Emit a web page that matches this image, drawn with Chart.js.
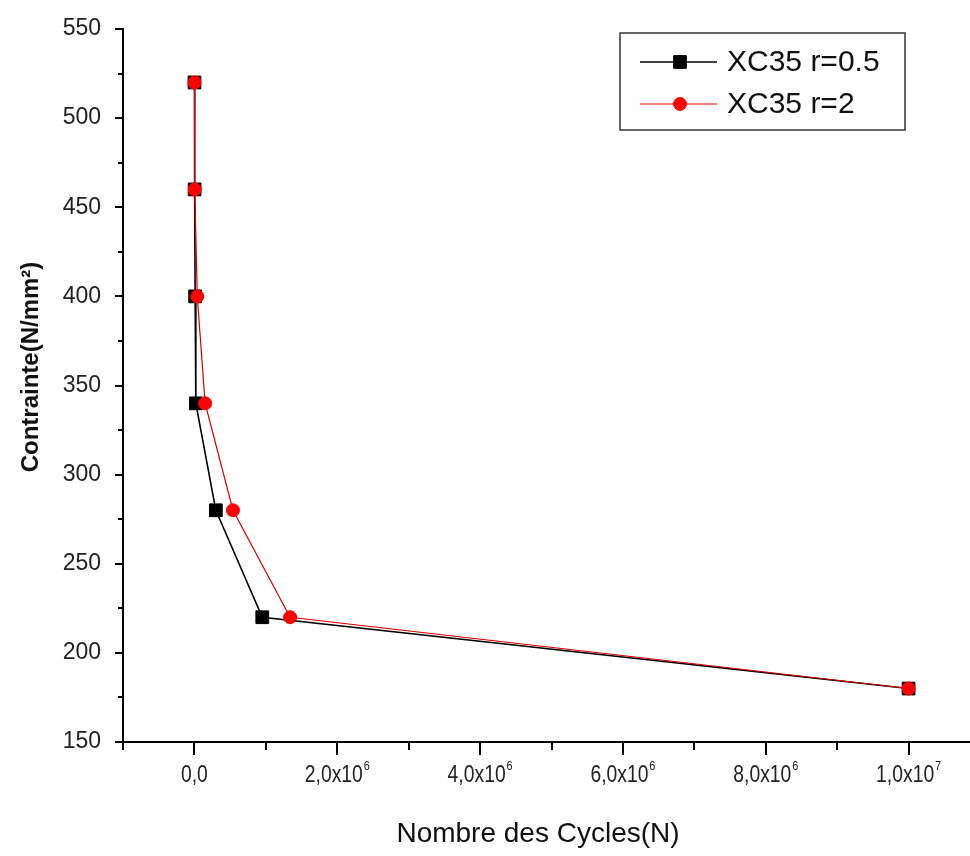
<!DOCTYPE html>
<html>
<head>
<meta charset="utf-8">
<script src="https://cdn.jsdelivr.net/npm/chart.js@4.4.0/dist/chart.umd.min.js"></script>
<style>
  html, body { margin: 0; padding: 0; background: #fff; overflow: hidden; }
  #wrap { width: 990px; height: 856px; }
</style>
</head>
<body>
<div id="wrap"><canvas id="snChart" width="990" height="856"></canvas></div>
<script>
// Stress levels (N/mm2) and number of cycles to failure for each ratio
const stressLevels = [520, 460, 400, 340, 280, 220, 180];
const cyclesR05 = [1000, 3000, 10000, 20000, 300000, 950000, 10000000];
const cyclesR2 = [1000, 5000, 40000, 150000, 540000, 1340000, 10000000];
const seriesNames = ['XC35 r=0.5', 'XC35 r=2'];

// Labelled ticks on each axis (x labels: mantissa + power of ten)
const xMajorValues = [0, 2000000, 4000000, 6000000, 8000000, 10000000];
const xTickMantissa = ['0,0', '2,0x10', '4,0x10', '6,0x10', '8,0x10', '1,0x10'];
const xTickExponent = ['', '6', '6', '6', '6', '7'];
const yMajorValues = [150, 200, 250, 300, 350, 400, 450, 500, 550];
const yTickLabels = ['150', '200', '250', '300', '350', '400', '450', '500', '550'];

const FONT = '"Liberation Sans", Arial, sans-serif';

function toPoints(xs, ys) {
    return xs.map((x, i) => ({ x: x, y: ys[i] }));
}

// Short outward ticks, longer on labelled values
const axisTicks = {
    id: 'axisTicks',
    afterDraw(chart) {
        const ctx = chart.ctx;
        const xs = chart.scales.x, ys = chart.scales.y;
        const area = chart.chartArea;
        ctx.save();
        ctx.strokeStyle = '#000';
        ctx.lineWidth = 2;
        xs.ticks.forEach(t => {
            const px = Math.round(xs.getPixelForValue(t.value));
            const len = xMajorValues.includes(t.value) ? 13 : 8;
            ctx.beginPath();
            ctx.moveTo(px, area.bottom);
            ctx.lineTo(px, area.bottom + len);
            ctx.stroke();
        });
        ys.ticks.forEach(t => {
            const py = Math.round(ys.getPixelForValue(t.value));
            const len = yMajorValues.includes(t.value) ? 8 : 5;
            ctx.beginPath();
            ctx.moveTo(area.left, py);
            ctx.lineTo(area.left - len, py);
            ctx.stroke();
        });
        ctx.restore();
    }
};

// Tick labels: y values right-aligned, x values with a raised exponent
const tickText = {
    id: 'tickText',
    afterDraw(chart) {
        const ctx = chart.ctx;
        const xs = chart.scales.x, ys = chart.scales.y;
        const area = chart.chartArea;
        ctx.save();
        ctx.fillStyle = '#222';
        ctx.textBaseline = 'middle';

        ctx.textAlign = 'right';
        ctx.font = '23px ' + FONT;
        yMajorValues.forEach((v, i) => {
            ctx.fillText(yTickLabels[i], area.left - 22, ys.getPixelForValue(v));
        });

        ctx.textAlign = 'left';
        const y = area.bottom + 34;
        const squeeze = 0.84;
        xMajorValues.forEach((v, i) => {
            const px = xs.getPixelForValue(v);
            ctx.font = '23px ' + FONT;
            const wm = ctx.measureText(xTickMantissa[i]).width;
            ctx.font = '13px ' + FONT;
            const we = xTickExponent[i] ? ctx.measureText(xTickExponent[i]).width + 1 : 0;
            const total = (wm + we) * squeeze;
            ctx.save();
            ctx.translate(px - total / 2, y);
            ctx.scale(squeeze, 1);
            ctx.font = '23px ' + FONT;
            ctx.fillText(xTickMantissa[i], 0, 0);
            if (xTickExponent[i]) {
                ctx.font = '13px ' + FONT;
                ctx.fillText(xTickExponent[i], wm + 1, -10);
            }
            ctx.restore();
        });
        ctx.restore();
    }
};

// Axis titles
const axisTitles = {
    id: 'axisTitles',
    afterDraw(chart) {
        const ctx = chart.ctx;
        ctx.save();
        ctx.fillStyle = '#111';
        ctx.textAlign = 'center';
        ctx.textBaseline = 'middle';
        ctx.font = '28px ' + FONT;
        ctx.fillText('Nombre des Cycles(N)', 538, 834);
        ctx.translate(31, 367);
        ctx.rotate(-Math.PI / 2);
        ctx.font = 'bold 24px ' + FONT;
        ctx.fillText('Contrainte(N/mm\u00b2)', 0, 0);
        ctx.restore();
    }
};

// Boxed legend with line + marker samples
const boxLegend = {
    id: 'boxLegend',
    afterDraw(chart) {
        const ctx = chart.ctx;
        ctx.save();
        ctx.strokeStyle = '#333';
        ctx.lineWidth = 1.5;
        ctx.strokeRect(620, 33, 285, 97);
        chart.data.datasets.forEach((ds, i) => {
            const y = 62 + i * 42;
            ctx.strokeStyle = ds.borderColor;
            ctx.lineWidth = ds.borderWidth;
            ctx.beginPath();
            ctx.moveTo(640, y);
            ctx.lineTo(717, y);
            ctx.stroke();
            ctx.fillStyle = ds.pointBackgroundColor;
            ctx.strokeStyle = ds.pointBorderColor;
            ctx.lineWidth = 1;
            Chart.helpers.drawPoint(ctx, { pointStyle: ds.pointStyle, radius: ds.pointRadius, rotation: 0, borderWidth: 1 }, 680, y);
            ctx.fillStyle = '#111';
            ctx.font = '30px ' + FONT;
            ctx.textAlign = 'left';
            ctx.textBaseline = 'middle';
            ctx.fillText(ds.label, 727, y + 1);
        });
        ctx.restore();
    }
};

const ctx = document.getElementById('snChart').getContext('2d');
new Chart(ctx, {
    type: 'scatter',
    data: {
        datasets: [
            {
                label: seriesNames[0],
                data: toPoints(cyclesR05, stressLevels),
                showLine: true,
                borderColor: '#000000',
                borderWidth: 1.6,
                pointStyle: 'rect',
                pointRadius: 9,
                pointBackgroundColor: '#000000',
                pointBorderColor: '#000000',
                pointBorderWidth: 1,
                order: 1
            },
            {
                label: seriesNames[1],
                data: toPoints(cyclesR2, stressLevels),
                showLine: true,
                borderColor: '#d80000',
                borderWidth: 1.2,
                pointStyle: 'circle',
                pointRadius: 6.5,
                pointBackgroundColor: '#ff0000',
                pointBorderColor: '#ff0000',
                pointBorderWidth: 1,
                order: 0
            }
        ]
    },
    options: {
        responsive: false,
        animation: false,
        layout: { padding: { left: 0, top: 29, right: 6, bottom: 0 } },
        plugins: {
            legend: { display: false },
            tooltip: { enabled: false }
        },
        scales: {
            // tick labels on both axes are painted by the tickText plugin
            x: {
                type: 'linear',
                min: -1000000,
                max: 11000000,
                afterFit: s => { s.height = 114; },
                border: { display: true, color: '#000', width: 2 },
                grid: { display: false, drawTicks: false },
                ticks: {
                    stepSize: 1000000,
                    autoSkip: false,
                    maxRotation: 0,
                    padding: 0,
                    font: { size: 1 },
                    callback: () => ''
                }
            },
            y: {
                type: 'linear',
                min: 150,
                max: 550,
                afterFit: s => { s.width = 123; },
                border: { display: true, color: '#000', width: 2 },
                grid: { display: false, drawTicks: false },
                ticks: {
                    stepSize: 25,
                    autoSkip: false,
                    padding: 0,
                    font: { size: 1 },
                    callback: () => ''
                }
            }
        }
    },
    plugins: [axisTicks, tickText, axisTitles, boxLegend]
});
</script>
</body>
</html>
